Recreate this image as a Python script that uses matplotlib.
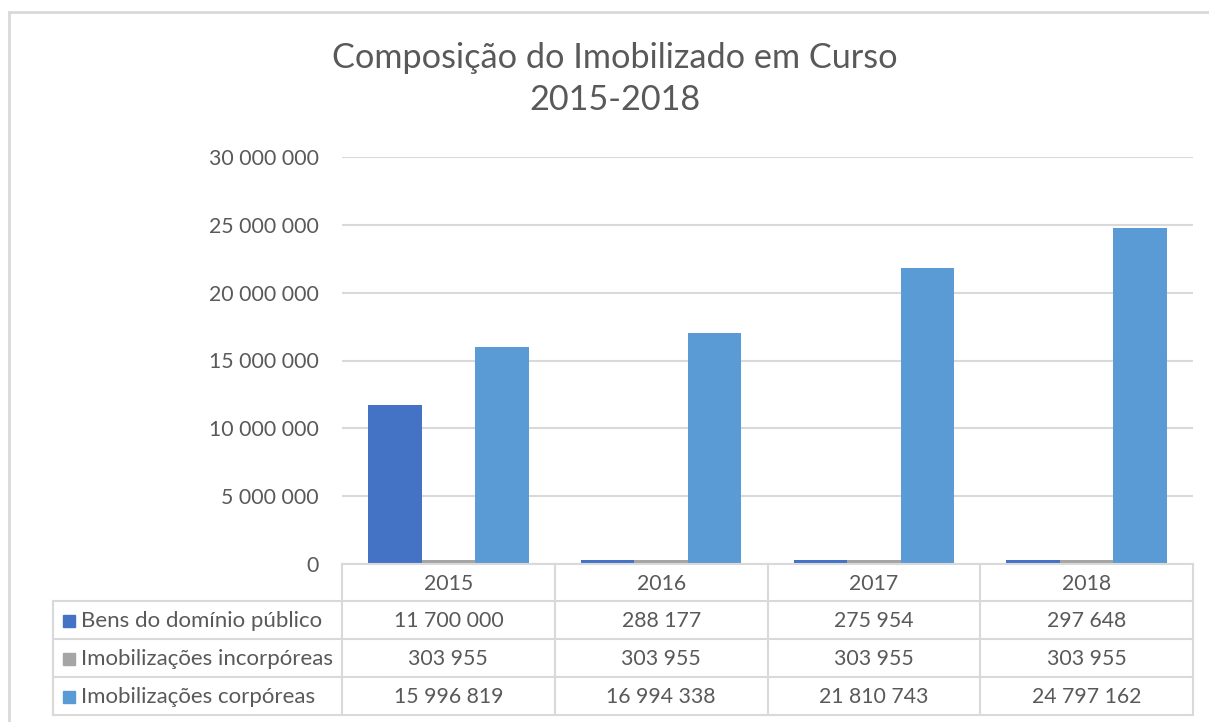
import matplotlib
matplotlib.use('Agg')
import matplotlib.pyplot as plt

# dados
anos = ['2015', '2016', '2017', '2018']
series = ['Bens do domínio público', 'Imobilizações incorpóreas', 'Imobilizações corpóreas']
bens_dominio = [11700000, 288177, 275954, 297648]
incorporeas = [303955, 303955, 303955, 303955]
corporeas = [15996819, 16994338, 21810743, 24797162]
cores = ['#4472C4', '#A5A5A5', '#5B9BD5']
yticks = [0, 5000000, 10000000, 15000000, 20000000, 25000000, 30000000]

plt.rcParams['font.family'] = ['Lato', 'DejaVu Sans']
txt = '#595959'
linha = '#D9D9D9'

W, H = 1209, 722
fig = plt.figure(figsize=(W / 100, H / 100), dpi=100)

# limites do gráfico em pixels
x0, x1 = 342, 1193
y_top, y_zero = 157, 564

ax = fig.add_axes([x0 / W, 1 - y_zero / H, (x1 - x0) / W, (y_zero - y_top) / H])
valores = [bens_dominio, incorporeas, corporeas]
larg = 0.2515
for i, v in enumerate(valores):
    pos = [k + (i - 1) * larg for k in range(len(anos))]
    ax.bar(pos, v, width=larg, color=cores[i], zorder=3)

ax.set_xlim(-0.5, len(anos) - 0.5)
ax.set_ylim(0, 30000000)
ax.set_yticks(yticks)
ax.set_yticklabels([f'{t:,}'.replace(',', ' ') for t in yticks], color=txt, fontsize=15.3)
ax.tick_params(axis='y', length=0, pad=16.5)
ax.set_xticks([])
ax.grid(axis='y', color=linha, linewidth=1.5, zorder=0)
for s in ax.spines.values():
    s.set_visible(False)

# camada em pixels para a tabela e moldura
ov = fig.add_axes([0, 0, 1, 1], zorder=5)
ov.set_xlim(0, W)
ov.set_ylim(H, 0)
ov.axis('off')

# moldura
ov.plot([9, 9], [12, H], color=linha, lw=2)
ov.plot([9, W], [12, 12], color=linha, lw=2)

ov.text(615, 79, 'Composição do Imobilizado em Curso\n2015-2018', ha='center', va='center',
        fontsize=24.7, color=txt, linespacing=1.42)

# tabela de dados
tab_left = 53
rows_y = [564, 601, 639, 677, 715]
col_w = (x1 - x0) / len(anos)
cols_x = [x0 + k * col_w for k in range(len(anos) + 1)]

ov.plot([x0, x1], [rows_y[0]] * 2, color=linha, lw=1.5)
for y in rows_y[1:]:
    ov.plot([tab_left, x1], [y, y], color=linha, lw=1.5)
for x in cols_x:
    ov.plot([x, x], [rows_y[0], rows_y[-1]], color=linha, lw=1.5)
ov.plot([tab_left, tab_left], [rows_y[1], rows_y[-1]], color=linha, lw=1.5)

for k, a in enumerate(anos):
    ov.text(cols_x[k] + col_w / 2, (rows_y[0] + rows_y[1]) / 2 + 1, a, ha='center', va='center',
            fontsize=15.3, color=txt)

for i, nome in enumerate(series):
    yc = (rows_y[i + 1] + rows_y[i + 2]) / 2 + 1
    ov.add_patch(plt.Rectangle((63, yc - 6), 12, 12, color=cores[i]))
    ov.text(81, yc, nome, ha='left', va='center', fontsize=16, color=txt)
    for k in range(len(anos)):
        ov.text(cols_x[k] + col_w / 2, yc, f'{valores[i][k]:,}'.replace(',', ' '),
                ha='center', va='center', fontsize=15.3, color=txt)

fig.savefig('out.png', dpi=100)
